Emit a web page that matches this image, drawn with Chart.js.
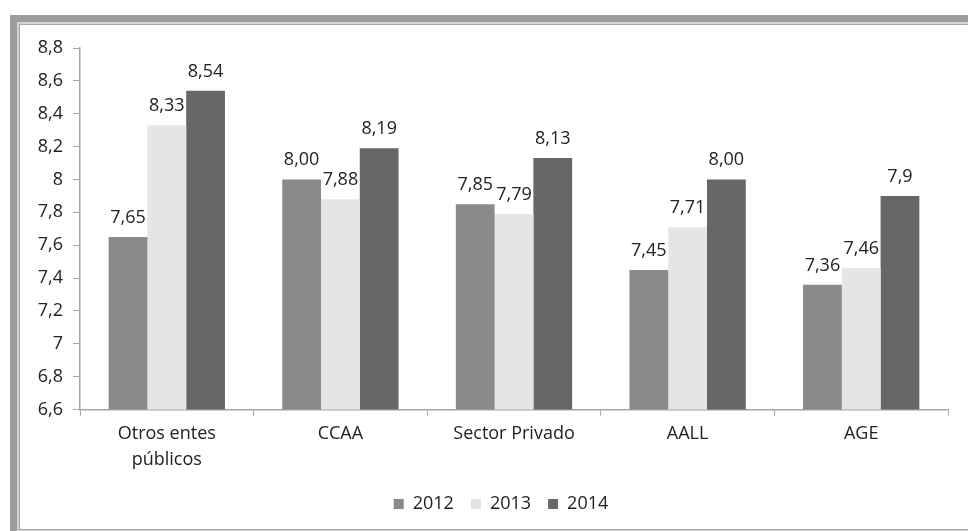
<!DOCTYPE html>
<html lang="es">
<head>
    <meta charset="utf-8">
    <title>Valoración por sector</title>
    <script src="https://cdn.jsdelivr.net/npm/chart.js"></script>
    <style>
        html, body { margin: 0; padding: 0; width: 968px; height: 531px; overflow: hidden; background: #fff; }
        .frame-outer { position: absolute; left: 10px; top: 15px; width: 1000px; height: 600px; background: #9c9c9c; }
        .frame-mid { position: absolute; left: 17px; top: 22px; width: 1000px; height: 600px; background: #d4d4d4; }
        .frame-inner { position: absolute; left: 19px; top: 24px; width: 1000px; height: 504px; background: #fff; border: 1px solid #a6a6a6; }
        #chart { position: absolute; left: 0; top: 0; }
    </style>
</head>
<body>
    <div class="frame-outer"></div>
    <div class="frame-mid"></div>
    <div class="frame-inner"></div>
    <canvas id="chart" width="968" height="531"></canvas>

    <script>
        // categories and series
        const categories = [['Otros entes', 'públicos'], 'CCAA', 'Sector Privado', 'AALL', 'AGE'];
        const years = ['2012', '2013', '2014'];
        const values2012 = [7.65, 8.00, 7.85, 7.45, 7.36];
        const values2013 = [8.33, 7.88, 7.79, 7.71, 7.46];
        const values2014 = [8.54, 8.19, 8.13, 8.00, 7.9];
        // labels as printed above the bars
        const text2012 = ['7,65', '8,00', '7,85', '7,45', '7,36'];
        const text2013 = ['8,33', '7,88', '7,79', '7,71', '7,46'];
        const text2014 = ['8,54', '8,19', '8,13', '8,00', '7,9'];
        const yMin = 6.6, yMax = 8.8, yStep = 0.2;

        const fontFamily = '"Open Sans", sans-serif';
        const textColor = '#222';
        const axisColor = '#a6a6a6';

        // draws the value text over each bar
        const barLabels = {
            id: 'barLabels',
            afterDatasetsDraw(chart) {
                const ctx = chart.ctx;
                ctx.save();
                ctx.font = '18px ' + fontFamily;
                ctx.fillStyle = textColor;
                ctx.textAlign = 'center';
                ctx.textBaseline = 'alphabetic';
                chart.data.datasets.forEach((ds, i) => {
                    chart.getDatasetMeta(i).data.forEach((bar, j) => {
                        ctx.fillText(ds.valueText[j], bar.x, bar.y - 14);
                    });
                });
                ctx.restore();
            }
        };

        // legend sits a bit right of the canvas centre in the original
        const legendShift = {
            id: 'legendShift',
            afterLayout(chart) {
                chart.legend.left += 27;
                chart.legend.right += 27;
            }
        };

        const ctx = document.getElementById('chart').getContext('2d');
        new Chart(ctx, {
            type: 'bar',
            data: {
                labels: categories,
                datasets: [
                    { label: years[0], data: values2012, valueText: text2012, backgroundColor: '#8a8a8a' },
                    { label: years[1], data: values2013, valueText: text2013, backgroundColor: '#e5e5e5' },
                    { label: years[2], data: values2014, valueText: text2014, backgroundColor: '#676767' }
                ]
            },
            options: {
                responsive: false,
                animation: false,
                layout: { padding: { left: 0, right: 20, top: 48, bottom: 8 } },
                datasets: {
                    bar: { categoryPercentage: 0.67, barPercentage: 1.0, borderWidth: 0 }
                },
                plugins: {
                    legend: {
                        position: 'bottom',
                        labels: {
                            color: textColor,
                            font: { family: fontFamily, size: 18 },
                            boxWidth: 10,
                            boxHeight: 10,
                            padding: 17
                        }
                    },
                    tooltip: { enabled: false }
                },
                scales: {
                    x: {
                        grid: { offset: true, drawOnChartArea: false, color: axisColor, tickLength: 6, tickWidth: 1 },
                        border: { color: axisColor, width: 1.5 },
                        ticks: { color: textColor, font: { family: fontFamily, size: 18, lineHeight: 1.4 }, maxRotation: 0, padding: 6 }
                    },
                    y: {
                        min: yMin,
                        max: yMax,
                        afterFit(scale) { scale.width = 80; },
                        grid: { drawOnChartArea: false, color: axisColor, tickLength: 7 },
                        border: { color: axisColor, width: 1.5 },
                        ticks: {
                            stepSize: yStep,
                            color: textColor,
                            font: { family: fontFamily, size: 18 },
                            padding: 10,
                            callback: v => String(Number(v.toFixed(1))).replace('.', ',')
                        }
                    }
                }
            },
            plugins: [barLabels, legendShift]
        });
    </script>
</body>
</html>
